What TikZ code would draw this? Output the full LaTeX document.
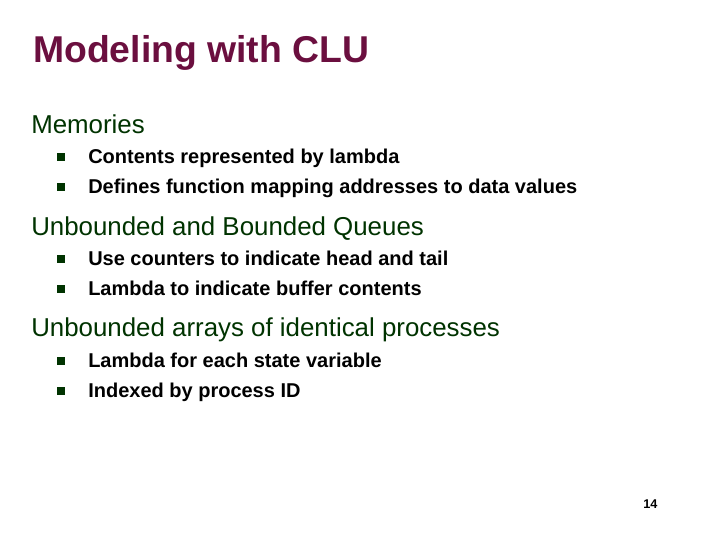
\documentclass[tikz,border=0pt]{standalone}
\usepackage{fontspec}
\setmainfont{Liberation Sans}
\definecolor{titlec}{HTML}{6B0F3F}
\definecolor{headc}{HTML}{003300}
\begin{document}
\begin{tikzpicture}[x=0.75pt,y=-0.75pt,
  title/.style={anchor=base west,inner sep=0,text=titlec,font=\bfseries\fontsize{28}{30}\selectfont},
  head/.style={anchor=base west,inner sep=0,text=headc,font=\fontsize{19.4}{22}\selectfont},
  item/.style={anchor=base west,inner sep=0,font=\bfseries\fontsize{15}{17}\selectfont},
  bul/.style={fill=headc,minimum size=5.5pt,inner sep=0}]
\fill[white] (0,0) rectangle (719,539);
\node[title] (t) at (33,62) {Modeling with CLU};
\node[head] (h1) at (31,133) {Memories};
\node[bul] (b1) at (61,157) {}; \node[item] (i1) at (88,163) {Contents represented by lambda};
\node[bul] (b2) at (61,187) {}; \node[item] (i2) at (88,193) {Defines function mapping addresses to data values};
\node[head] (h2) at (31,235) {Unbounded and Bounded Queues};
\node[bul] (b3) at (61,259) {}; \node[item] (i3) at (88,265) {Use counters to indicate head and tail};
\node[bul] (b4) at (61,289) {}; \node[item] (i4) at (88,295) {Lambda to indicate buffer contents};
\node[head] (h3) at (31,336) {Unbounded arrays of identical processes};
\node[bul] (b5) at (61,361) {}; \node[item] (i5) at (88,367) {Lambda for each state variable};
\node[bul] (b6) at (61,391) {}; \node[item] (i6) at (88,397) {Indexed by process ID};
\node[anchor=base west,inner sep=0,font=\bfseries\fontsize{9.5}{11}\selectfont] (pg) at (643,508) {14};
\end{tikzpicture}
\end{document}
